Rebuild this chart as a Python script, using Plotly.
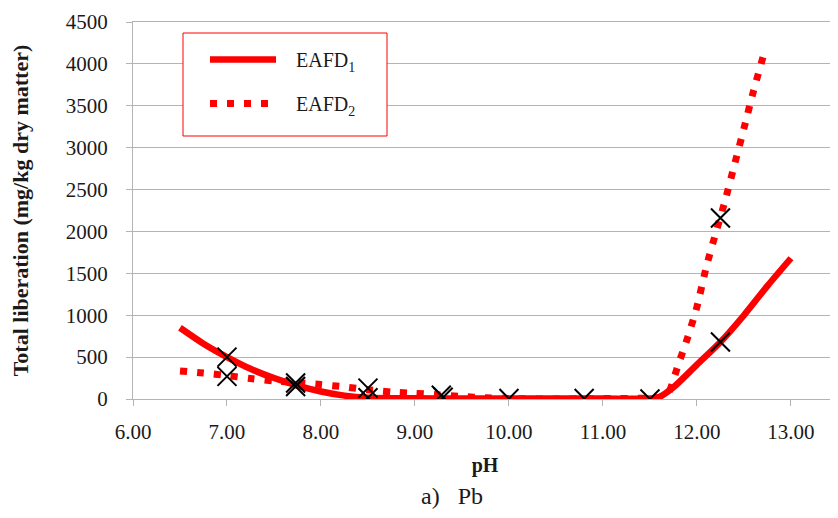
import plotly.graph_objects as go

# EAFD1 modelled curve (solid)
ph_eafd1 = [6.5, 6.75, 7.0, 7.25, 7.5, 7.75, 8.0, 8.25, 8.5, 9.0, 9.5, 10.0, 10.5,
            11.0, 11.5, 11.6, 11.75, 12.0, 12.25, 12.5, 12.75, 13.0]
eafd1 = [850, 660, 500, 360, 250, 160, 90, 40, 15, 8, 6, 5, 5,
         5, 5, 25, 140, 410, 680, 1000, 1350, 1680]

# EAFD2 modelled curve (dotted)
ph_eafd2 = [6.5, 6.75, 7.0, 7.25, 7.5, 7.75, 8.0, 8.25, 8.5, 8.75, 9.0, 9.25, 9.5,
            9.75, 10.0, 10.5, 11.0, 11.5, 11.6, 11.7, 11.75, 11.8, 11.9, 12.0,
            12.1, 12.2, 12.3, 12.4, 12.5, 12.6, 12.72]
eafd2 = [335, 310, 280, 245, 215, 195, 172, 145, 110, 82, 68, 50, 30,
         15, 5, 0, 5, 10, 20, 80, 230, 405, 730, 1100,
         1580, 1980, 2370, 2800, 3230, 3670, 4150]

# Measured values (black crosses)
ph_obs = [7.0, 7.0, 7.73, 7.73, 8.5, 8.5, 9.28, 9.3, 10.0, 10.8, 11.5, 12.25, 12.25]
obs = [500, 270, 190, 150, 130, 15, 45, 20, 5, 5, 0, 680, 2160]

y_ticks = [0, 500, 1000, 1500, 2000, 2500, 3000, 3500, 4000, 4500]

FONT = "Times New Roman, Liberation Serif, serif"
GRID = "#b4b4b4"
TXT = "#1a1a1a"

fig = go.Figure()
fig.add_trace(go.Scatter(
    x=ph_eafd1, y=eafd1, mode="lines", name="&nbsp;&nbsp;&nbsp;EAFD<sub>1</sub>",
    line=dict(color="#ff0000", width=6.5, shape="spline", smoothing=0.8),
    legendgroup="a"))
fig.add_trace(go.Scatter(
    x=ph_eafd2, y=eafd2, mode="lines", name="&nbsp;&nbsp;&nbsp;EAFD<sub>2</sub>",
    line=dict(color="#ff0000", width=7, dash="7px,10px", shape="spline", smoothing=0.6),
    legendgroup="b"))
fig.add_trace(go.Scatter(
    x=ph_obs, y=obs, mode="markers", showlegend=False,
    marker=dict(symbol="x-thin", size=19, color="black",
                line=dict(color="black", width=2))))

fig.update_layout(
    width=830, height=510,
    margin=dict(l=125, r=1, t=14, b=119),
    paper_bgcolor="white", plot_bgcolor="white",
    font=dict(family=FONT, size=21, color=TXT),
    legend=dict(x=(205 - 133) / 704, y=1 - (40 - 22) / 377, xanchor="left", yanchor="top",
                borderwidth=0, bgcolor="rgba(0,0,0,0)",
                itemwidth=66, tracegroupgap=15,
                font=dict(family=FONT, size=20, color=TXT)),
    shapes=[dict(type="rect", xref="paper", yref="paper",
                 x0=(183 - 133) / 704, x1=(387 - 133) / 704,
                 y0=1 - (136 - 22) / 377, y1=1 - (33 - 22) / 377,
                 line=dict(color="#ff0000", width=1), fillcolor="white", layer="above")],
    xaxis=dict(range=[6, 13.49], dtick=1, tick0=6, tickformat=".2f",
               showgrid=False, zeroline=False,
               showline=True, linecolor=GRID, linewidth=1, mirror=True,
               ticks="outside", ticklen=6, tickcolor=GRID, ticklabelstandoff=8,
               title=dict(text="<b>pH</b>", font=dict(size=20), standoff=14)),
    yaxis=dict(range=[0, 4500], tickvals=y_ticks,
               showgrid=True, gridcolor=GRID, gridwidth=1, zeroline=False,
               showline=True, linecolor=GRID, linewidth=1, mirror=True,
               ticks="outside", ticklen=6, tickcolor=GRID, ticklabelstandoff=14,
               title=dict(text="<b>Total liberation (mg/kg dry matter)</b>",
                          font=dict(size=22), standoff=34)),
    annotations=[dict(text="a)   Pb", x=(452 - 133) / 704, xref="paper",
                      y=-(496 - 399) / 377, yref="paper", yanchor="middle",
                      showarrow=False, font=dict(size=24, family=FONT, color=TXT))],
)

fig.write_html("out.html")
